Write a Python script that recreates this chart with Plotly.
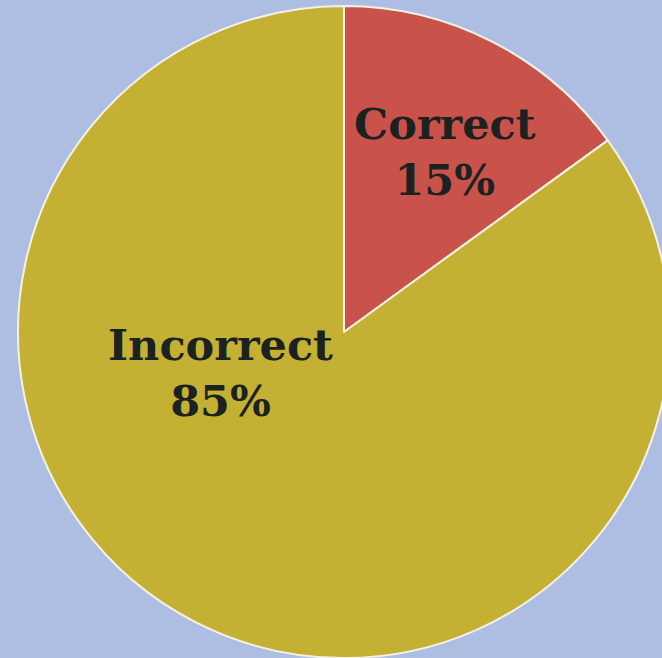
import plotly.graph_objects as go

labels = ["Correct", "Incorrect"]
values = [15, 85]
colors = ["#c9534a", "#c4b032"]
label_pos = [(445, 152), (220, 373)]  # pixel centres of the label blocks

W, H = 700, 700
cx, cy, r = 344, 332, 326

fig = go.Figure(go.Pie(
    labels=labels,
    values=values,
    sort=False,
    direction="clockwise",
    rotation=0,
    textinfo="none",
    hoverinfo="label+percent",
    marker=dict(colors=colors, line=dict(color="#f4f1e6", width=2)),
    domain=dict(x=[(cx - r) / W, (cx + r) / W], y=[(H - cy - r) / H, (H - cy + r) / H]),
    showlegend=False,
))

total = sum(values)
for lab, val, (px, py) in zip(labels, values, label_pos):
    fig.add_annotation(
        x=px / W, y=1 - py / H, xref="paper", yref="paper",
        xanchor="center", yanchor="middle",
        text=f"<b>{lab}<br>{round(100 * val / total)}%</b>",
        showarrow=False,
        font=dict(family="DejaVu Serif", size=43, color="#1c2222"),
        align="center",
    )

fig.update_layout(
    width=W, height=H,
    margin=dict(l=0, r=0, t=0, b=0),
    paper_bgcolor="#aebde2",
    plot_bgcolor="#aebde2",
)

fig.write_html(
    "out.html",
    config={"displayModeBar": False},
    post_script="document.body.style.margin='0';document.body.style.overflow='hidden';document.body.style.background='#aebde2';",
)
